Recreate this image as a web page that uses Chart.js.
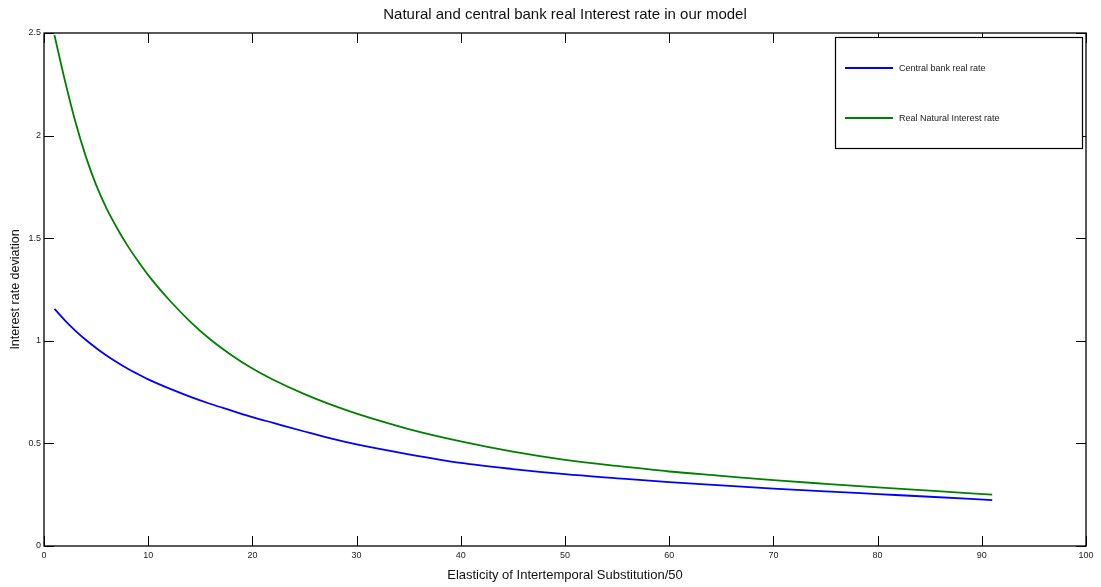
<!DOCTYPE html>
<html>
<head>
<meta charset="utf-8">
<script src="https://cdn.jsdelivr.net/npm/chart.js@4/dist/chart.umd.min.js"></script>
<style>
  html, body { margin: 0; padding: 0; background: #fff; }
  #wrap { width: 1101px; height: 587px; }
</style>
</head>
<body>
<div id="wrap"><canvas id="chart" width="1101" height="587"></canvas></div>
<script>
// values
const esi = [1, 2, 3, 4, 5, 6, 7, 8, 9, 10, 12, 14, 16, 18, 20, 22, 25, 28, 30, 35, 40, 45, 50, 55, 60, 65, 70, 75, 80, 85, 91];
const centralBankRate = [1.156, 1.10, 1.05, 1.005, 0.965, 0.928, 0.895, 0.865, 0.838, 0.812, 0.768, 0.728, 0.692, 0.66, 0.628, 0.60, 0.558, 0.518, 0.495, 0.447, 0.405, 0.375, 0.35, 0.33, 0.311, 0.295, 0.28, 0.266, 0.253, 0.24, 0.224];
const naturalRate = [2.49, 2.27, 2.07, 1.9, 1.76, 1.645, 1.55, 1.465, 1.39, 1.32, 1.2, 1.095, 1.005, 0.93, 0.865, 0.81, 0.74, 0.68, 0.645, 0.57, 0.51, 0.46, 0.42, 0.39, 0.363, 0.342, 0.321, 0.303, 0.286, 0.27, 0.25];
const xTicks = [0, 10, 20, 30, 40, 50, 60, 70, 80, 90, 100];
const yTicks = [0, 0.5, 1, 1.5, 2, 2.5];
const seriesNames = ["Central bank real rate", "Real Natural Interest rate"];

const font = "'Liberation Sans', Arial, Helvetica, sans-serif";

function toPoints(ys) {
  return esi.map((x, i) => ({ x: x, y: ys[i] }));
}

// matlab style box, inward ticks and boxed legend
const matlabFrame = {
  id: "matlabFrame",
  afterDatasetsDraw(chart) {
    const ctx = chart.ctx;
    const a = chart.chartArea;
    const xs = chart.scales.x, ys = chart.scales.y;
    const tl = 10;
    ctx.save();
    ctx.strokeStyle = "#000";
    ctx.lineWidth = 1;
    ctx.beginPath();
    xTicks.forEach(v => {
      const px = Math.round(xs.getPixelForValue(v)) + 0.5;
      ctx.moveTo(px, a.bottom); ctx.lineTo(px, a.bottom - tl);
      ctx.moveTo(px, a.top); ctx.lineTo(px, a.top + tl);
    });
    yTicks.forEach(v => {
      const py = Math.round(ys.getPixelForValue(v)) + 0.5;
      ctx.moveTo(a.left, py); ctx.lineTo(a.left + tl, py);
      ctx.moveTo(a.right, py); ctx.lineTo(a.right - tl, py);
    });
    ctx.stroke();
    ctx.lineWidth = 1.3;
    ctx.strokeRect(a.left, a.top, a.right - a.left, a.bottom - a.top);

    // legend
    const lx = 835.5, ly = 37.5, lw = 247, lh = 111;
    ctx.fillStyle = "#fff";
    ctx.fillRect(lx, ly, lw, lh);
    ctx.lineWidth = 1.2;
    ctx.strokeRect(lx, ly, lw, lh);
    ctx.font = "9px " + font;
    ctx.textBaseline = "middle";
    ctx.textAlign = "left";
    chart.data.datasets.forEach((ds, i) => {
      const y = 68 + i * 50;
      ctx.strokeStyle = ds.borderColor;
      ctx.lineWidth = ds.borderWidth;
      ctx.beginPath();
      ctx.moveTo(845, y); ctx.lineTo(893, y);
      ctx.stroke();
      ctx.fillStyle = "#222";
      ctx.fillText(ds.label, 899, y + 0.5);
    });
    ctx.restore();
  }
};

new Chart(document.getElementById("chart"), {
  type: "line",
  data: {
    datasets: [
      {
        label: seriesNames[0],
        data: toPoints(centralBankRate),
        borderColor: "#0000ff",
        borderWidth: 1.8,
        pointRadius: 0,
        cubicInterpolationMode: "monotone"
      },
      {
        label: seriesNames[1],
        data: toPoints(naturalRate),
        borderColor: "#008000",
        borderWidth: 1.8,
        pointRadius: 0,
        cubicInterpolationMode: "monotone"
      }
    ]
  },
  options: {
    responsive: false,
    animation: false,
    layout: { padding: { left: 0, right: 15, top: 0, bottom: 0 } },
    plugins: {
      legend: { display: false },
      tooltip: { enabled: false },
      title: {
        display: true,
        fullSize: false,
        text: "Natural and central bank real Interest rate in our model",
        color: "#111",
        font: { family: font, size: 15, weight: "normal" },
        padding: { top: 6, bottom: 9 }
      }
    },
    scales: {
      x: {
        type: "linear",
        min: 0,
        max: 100,
        afterBuildTicks: s => { s.ticks = xTicks.map(v => ({ value: v })); },
        afterFit: s => { s.height = 41; },
        grid: { display: false, drawTicks: false },
        border: { display: false },
        ticks: { color: "#222", font: { family: font, size: 9 }, padding: 4, maxRotation: 0, callback: v => String(v) },
        title: {
          display: true,
          text: "Elasticity of Intertemporal Substitution/50",
          color: "#111",
          font: { family: font, size: 13 },
          padding: { top: 0, bottom: 4 }
        }
      },
      y: {
        min: 0,
        max: 2.5,
        afterBuildTicks: s => { s.ticks = yTicks.map(v => ({ value: v })); },
        afterFit: s => { s.width = 44; },
        grid: { display: false, drawTicks: false },
        border: { display: false },
        ticks: { color: "#222", font: { family: font, size: 9 }, padding: 3, callback: v => String(v) },
        title: {
          display: true,
          text: "Interest rate deviation",
          color: "#111",
          font: { family: font, size: 12.5 },
          padding: { top: 8, bottom: 0 }
        }
      }
    }
  },
  plugins: [matlabFrame]
});
</script>
</body>
</html>
